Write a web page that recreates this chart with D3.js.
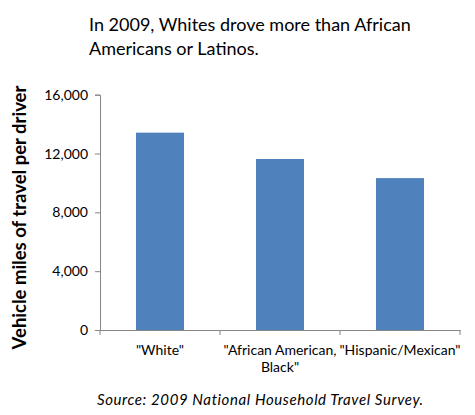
<!DOCTYPE html>
<html>
<head>
<meta charset="utf-8">
<script src="https://cdn.jsdelivr.net/npm/d3@7"></script>
<style>
  body { margin: 0; background: #fff; }
  svg text { font-family: Lato, "Open Sans", sans-serif; fill: #000; }
</style>
</head>
<body>
<div id="chart"></div>
<script>
// data
var categories = ['"White"', '"African American, Black"', '"Hispanic/Mexican"'];
var categoryLines = [['"White"'], ['"African American,', 'Black"'], ['"Hispanic/Mexican"']];
var values = [13420, 11630, 10330];
var yTicks = [0, 4000, 8000, 12000, 16000];
var titleLines = ["In 2009, Whites drove more than African", "Americans or Latinos."];
var yTitle = "Vehicle miles of travel per driver";
var source = "Source: 2009 National Household Travel Survey.";

function run() {
    var w = 475, h = 415;
    var svg = d3.select("#chart").append("svg")
        .attr("width", w)
        .attr("height", h);

    var left = 100, right = 460, top = 94.7, bottom = 330;

    var xScale = d3.scaleBand()
        .domain(d3.range(categories.length))
        .range([left, right])
        .paddingInner(0)
        .paddingOuter(0);
    var yScale = d3.scaleLinear()
        .domain([0, 16000])
        .range([bottom, top]);

    // bars
    var barW = 48;
    svg.selectAll("rect.bar")
        .data(values)
        .enter()
        .append("rect")
        .attr("class", "bar")
        .attr("x", function(d, i) { return xScale(i) + xScale.bandwidth() / 2 - barW / 2; })
        .attr("y", function(d) { return yScale(d); })
        .attr("width", barW)
        .attr("height", function(d) { return bottom - yScale(d); })
        .attr("fill", "#4F81BD");

    // y axis
    var yAxis = d3.axisLeft(yScale)
        .tickValues(yTicks)
        .tickSize(5)
        .tickPadding(7)
        .tickFormat(d3.format(","));
    var gy = svg.append("g")
        .attr("transform", "translate(" + left + ",0)")
        .call(yAxis);
    gy.select(".domain").attr("stroke", "#868686");
    gy.selectAll(".tick line").attr("stroke", "#868686");
    gy.selectAll(".tick text")
        .attr("font-size", "14px")
        .attr("font-family", "Lato, sans-serif")
        .attr("fill", "#000");

    // x axis
    var xAxis = d3.axisBottom(xScale).tickSize(0).tickFormat("");
    var gx = svg.append("g")
        .attr("transform", "translate(0," + bottom + ")")
        .call(xAxis);
    gx.select(".domain").attr("stroke", "#868686");
    // category separators
    var seps = d3.range(categories.length + 1).map(function(i) {
        return i < categories.length ? xScale(i) : xScale(i - 1) + xScale.bandwidth();
    });
    gx.selectAll("line.sep")
        .data(seps)
        .enter()
        .append("line")
        .attr("class", "sep")
        .attr("x1", function(d) { return d; })
        .attr("x2", function(d) { return d; })
        .attr("y1", 0)
        .attr("y2", 5)
        .attr("stroke", "#868686");

    // category labels
    var labels = svg.selectAll("text.cat")
        .data(categoryLines)
        .enter()
        .append("text")
        .attr("class", "cat")
        .attr("text-anchor", "middle")
        .attr("font-size", "14px")
        .attr("y", 355);
    labels.selectAll("tspan")
        .data(function(d, i) { return d.map(function(t) { return { t: t, i: i }; }); })
        .enter()
        .append("tspan")
        .attr("x", function(d) { return xScale(d.i) + xScale.bandwidth() / 2; })
        .attr("dy", function(d, j) { return j === 0 ? 0 : 17; })
        .text(function(d) { return d.t; });

    // y title
    svg.append("text")
        .attr("transform", "translate(26,217.5) rotate(-90)")
        .attr("text-anchor", "middle")
        .attr("font-size", "18.5px")
        .attr("font-weight", "bold")
        .text(yTitle);

    // chart title
    svg.selectAll("text.title")
        .data(titleLines)
        .enter()
        .append("text")
        .attr("class", "title")
        .attr("x", 89)
        .attr("y", function(d, i) { return 31 + i * 24; })
        .attr("font-size", "18px")
        .text(function(d) { return d; });

    // source
    svg.append("text")
        .attr("x", 97)
        .attr("y", 405)
        .attr("font-size", "15px")
        .attr("letter-spacing", "0.6px")
        .attr("font-style", "italic")
        .text(source);
}
window.addEventListener('load', run);
</script>
</body>
</html>
